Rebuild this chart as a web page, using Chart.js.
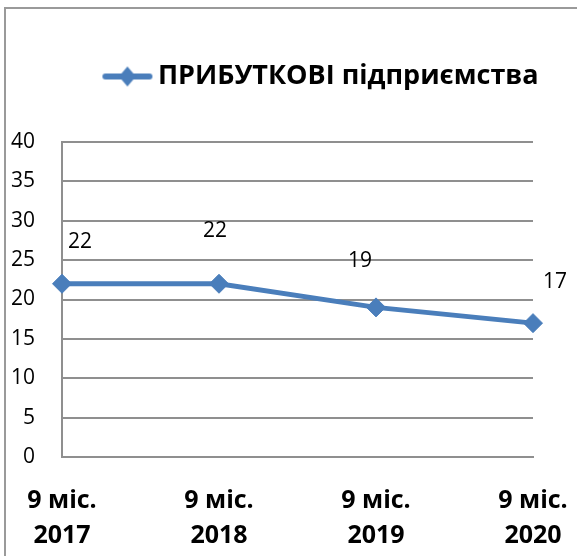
<!DOCTYPE html>
<html><head><meta charset="utf-8">
<script src="https://cdn.jsdelivr.net/npm/chart.js@4.4.0/dist/chart.umd.min.js"></script>
<style>html,body{margin:0;padding:0;background:#fff}#wrap{width:582px;height:556px;position:relative}</style>
</head><body><div id="wrap"><canvas id="c" width="582" height="556"></canvas></div>
<script>
const categories = [['9 міс.', '2017'], ['9 міс.', '2018'], ['9 міс.', '2019'], ['9 міс.', '2020']];
const seriesName = 'ПРИБУТКОВІ підприємства';
const values = [22, 22, 19, 17];
const yTicks = [0, 5, 10, 15, 20, 25, 30, 35, 40];

const BLUE = '#4A7EBB';
const GRID = '#8F8F8F';
const FONT = '"Open Sans", "DejaVu Sans", sans-serif';

// legend icon: line with diamond (canvas 60 wide, drawn centred 9px left of its visible centre)
const icon = document.createElement('canvas');
icon.width = 60; icon.height = 22;
(function(){
  const g = icon.getContext('2d');
  g.strokeStyle = BLUE; g.lineWidth = 6; g.lineCap = 'round';
  g.beginPath(); g.moveTo(12, 11); g.lineTo(56, 11); g.stroke();
  g.fillStyle = BLUE;
  g.beginPath(); g.moveTo(34, 1); g.lineTo(42.5, 11); g.lineTo(34, 21); g.lineTo(25.5, 11); g.closePath(); g.fill();
})();

const labelOffsets = [[18, -42], [-4, -53], [-16, -46], [22, -41]];

const framePlugin = {
  id: 'frame',
  beforeDraw(chart) {
    const ctx = chart.ctx;
    ctx.save();
    ctx.fillStyle = '#fff';
    ctx.fillRect(0, 0, chart.width, chart.height);
    ctx.strokeStyle = '#9A9A9A';
    ctx.lineWidth = 2;
    ctx.beginPath();
    ctx.moveTo(5, chart.height);
    ctx.lineTo(5, 8);
    ctx.lineTo(577, 8);
    ctx.stroke();
    ctx.restore();
  },
  afterLayout(chart) {
    const lg = chart.legend;
    if (lg) { lg.left += 54; lg.right += 54; }
  }
};

const dataLabels = {
  id: 'dataLabels',
  afterDatasetsDraw(chart) {
    const ctx = chart.ctx;
    const meta = chart.getDatasetMeta(0);
    ctx.save();
    ctx.font = '21px ' + FONT;
    ctx.fillStyle = '#000';
    ctx.textAlign = 'center';
    ctx.textBaseline = 'middle';
    meta.data.forEach((pt, i) => {
      const o = labelOffsets[i];
      ctx.fillText(String(values[i]), pt.x + o[0], pt.y + o[1]);
    });
    ctx.restore();
  }
};

new Chart(document.getElementById('c'), {
  type: 'line',
  data: {
    labels: categories,
    datasets: [{
      label: seriesName,
      data: values,
      borderColor: BLUE,
      backgroundColor: BLUE,
      borderWidth: 5,
      pointStyle: 'rectRot',
      pointRadius: 9.5,
      pointHoverRadius: 9.5,
      pointBackgroundColor: BLUE,
      pointBorderColor: BLUE,
      pointBorderWidth: 1,
      tension: 0
    }]
  },
  options: {
    responsive: false,
    animation: false,
    events: [],
    layout: { padding: { left: 0, right: 49, top: 13, bottom: 0 } },
    plugins: {
      tooltip: { enabled: false },
      legend: {
        display: true,
        position: 'top',
        align: 'center',
        labels: {
          usePointStyle: true,
          pointStyleWidth: 42,
          padding: 50,
          color: '#000',
          font: { family: FONT, size: 27, weight: 'bold' },
          generateLabels(chart) {
            return [{ text: seriesName, pointStyle: icon, fillStyle: BLUE, strokeStyle: BLUE, lineWidth: 0, datasetIndex: 0, hidden: false }];
          }
        }
      },
      subtitle: {
        display: true,
        text: ' ',
        weight: 500,
        position: 'top',
        font: { size: 1, lineHeight: 1 },
        padding: { top: 41, bottom: 0 }
      }
    },
    scales: {
      x: {
        offset: false,
        grid: { display: false, drawTicks: false },
        border: { display: true, color: GRID, width: 2 },
        afterFit(scale) { scale.height = 99; scale.paddingLeft = 0; scale.paddingRight = 0; },
        ticks: {
          color: '#000',
          padding: 26,
          maxRotation: 0,
          autoSkip: false,
          font: { family: FONT, size: 25, weight: 'bold', lineHeight: 1.4 }
        }
      },
      y: {
        min: 0, max: 40,
        afterBuildTicks(scale) { scale.ticks = yTicks.map(v => ({ value: v })); },
        afterFit(scale) { scale.width = 62; },
        grid: { color: GRID, lineWidth: 2, drawTicks: false },
        border: { display: true, color: GRID, width: 2 },
        ticks: {
          color: '#000',
          padding: 27,
          font: { family: FONT, size: 21 }
        }
      }
    }
  },
  plugins: [framePlugin, dataLabels]
});
</script>
</body></html>
